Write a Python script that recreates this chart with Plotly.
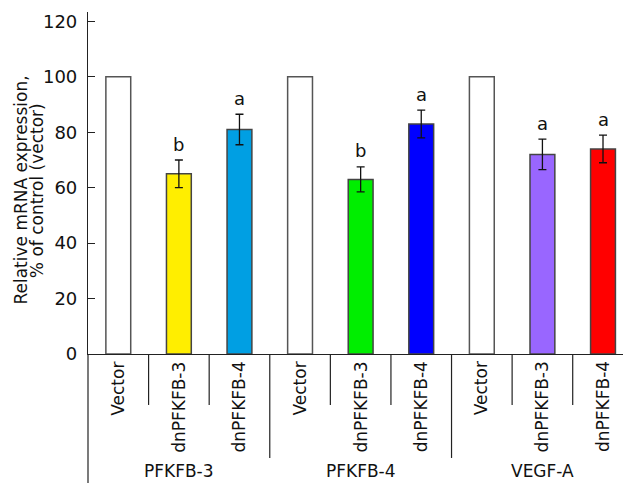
import plotly.graph_objects as go

# ---- data ----
groups = ["PFKFB-3", "PFKFB-4", "VEGF-A"]
conditions = ["Vector", "dnPFKFB-3", "dnPFKFB-4"]
values_pfkfb3 = [100, 65, 81]
values_pfkfb4 = [100, 63, 83]
values_vegfa = [100, 72, 74]
errors_pfkfb3 = [0, 5, 5.5]
errors_pfkfb4 = [0, 4.5, 5]
errors_vegfa = [0, 5.5, 5]
signif_pfkfb3 = ["", "b", "a"]
signif_pfkfb4 = ["", "b", "a"]
signif_vegfa = ["", "a", "a"]
colors_pfkfb3 = ["#FFFFFF", "#FFEE00", "#009FE3"]
colors_pfkfb4 = ["#FFFFFF", "#00EE00", "#0000FF"]
colors_vegfa = ["#FFFFFF", "#9966FF", "#FF0000"]
y_ticks = [0, 20, 40, 60, 80, 100, 120]
y_title_lines = ["Relative mRNA expression,", "% of control (vector)"]

values = values_pfkfb3 + values_pfkfb4 + values_vegfa
errors = errors_pfkfb3 + errors_pfkfb4 + errors_vegfa
signif = signif_pfkfb3 + signif_pfkfb4 + signif_vegfa
colors = colors_pfkfb3 + colors_pfkfb4 + colors_vegfa
labels = conditions * len(groups)
xpos = list(range(len(values)))

FONT = "DejaVu Sans"
AX = "#222222"

ctrl_idx = [i for i, e in enumerate(errors) if e == 0]
trt_idx = [i for i, e in enumerate(errors) if e > 0]

fig = go.Figure()
fig.add_trace(go.Bar(
    x=[xpos[i] for i in ctrl_idx], y=[values[i] for i in ctrl_idx], width=0.41,
    marker=dict(color=[colors[i] for i in ctrl_idx],
                line=dict(color="#555555", width=1.5)),
    showlegend=False, hoverinfo="skip",
))
fig.add_trace(go.Bar(
    x=[xpos[i] for i in trt_idx], y=[values[i] for i in trt_idx], width=0.41,
    marker=dict(color=[colors[i] for i in trt_idx],
                line=dict(color="#444444", width=1.5)),
    error_y=dict(type="data", array=[errors[i] for i in trt_idx],
                 visible=True, color="#111111", thickness=1.3, width=4),
    showlegend=False, hoverinfo="skip",
))

annotations = []
# significance letters
for x, v, e, s in zip(xpos, values, errors, signif):
    if s:
        annotations.append(dict(x=x, y=v + e, xref="x", yref="y", text=s,
                                showarrow=False, yanchor="middle", yshift=16,
                                font=dict(family=FONT, size=18, color="#111111")))
# condition labels (rotated)
for x, lab in zip(xpos, labels):
    annotations.append(dict(x=x, y=-0.016, xref="x", yref="paper", text=lab,
                            textangle=-90, showarrow=False, xanchor="center",
                            yanchor="top",
                            font=dict(family=FONT, size=17, color="#111111")))
# group labels
for gi, g in enumerate(groups):
    annotations.append(dict(x=gi * 3 + 1, y=-0.342, xref="x", yref="paper", text=g,
                            showarrow=False, xanchor="center", yanchor="middle",
                            font=dict(family=FONT, size=17, color="#111111")))
# y-axis title lines
for xp, line in zip([-0.127, -0.096], y_title_lines):
    annotations.append(dict(x=xp, y=0.478, xref="paper", yref="paper", text=line,
                            textangle=-90, showarrow=False, xanchor="center",
                            yanchor="middle",
                            font=dict(family=FONT, size=17, color="#111111")))

shapes = []
# separators in category area
n = len(values)
for i in range(n - 1):
    b = i + 0.5
    long_sep = (i + 1) % len(conditions) == 0
    shapes.append(dict(type="line", xref="x", yref="paper", x0=b, x1=b,
                       y0=0, y1=-0.304 if long_sep else -0.149,
                       line=dict(color=AX, width=1.2)))
# extension of y axis line downward
shapes.append(dict(type="line", xref="paper", yref="paper", x0=0, x1=0,
                   y0=0, y1=-0.4, line=dict(color=AX, width=1.2)))

fig.update_layout(
    width=623, height=483,
    margin=dict(l=88, r=0, t=12, b=129),
    paper_bgcolor="white", plot_bgcolor="white",
    font=dict(family=FONT, size=17, color="#111111"),
    barmode="overlay",
    xaxis=dict(range=[-0.5, 8.33], showticklabels=False, ticks="",
               showgrid=False, zeroline=False, showline=True,
               linecolor=AX, linewidth=1.2, fixedrange=True),
    yaxis=dict(range=[0, 123.4], tickvals=y_ticks, ticks="inside", ticklen=7,
               tickcolor=AX, tickwidth=1.2, showgrid=False, zeroline=False,
               showline=True, linecolor=AX, linewidth=1.2,
               ticklabelstandoff=6,
               tickfont=dict(family=FONT, size=18, color="#111111")),
    annotations=annotations,
    shapes=shapes,
)

fig.write_html("out.html",
               config={"displayModeBar": False},
               post_script="document.body.style.margin='0';"
                           "document.body.style.overflow='hidden';")
